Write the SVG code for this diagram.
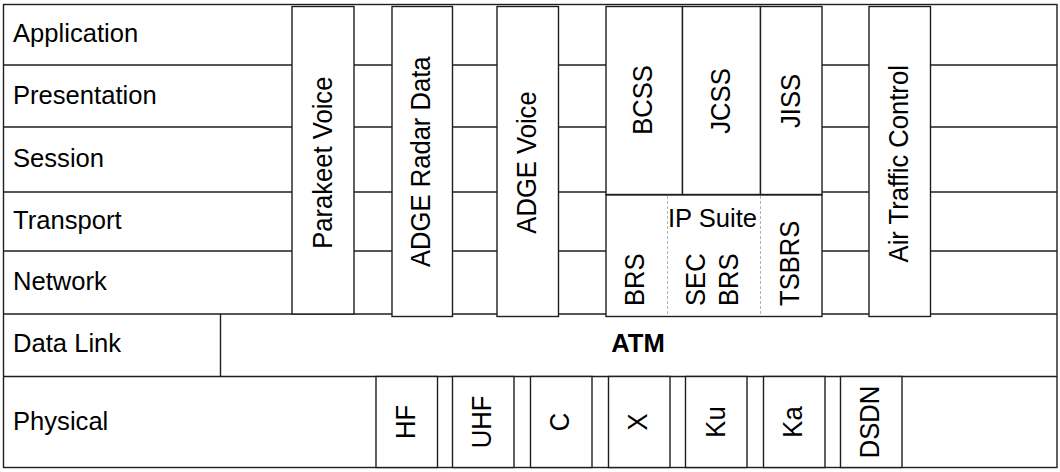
<svg xmlns="http://www.w3.org/2000/svg" width="1060" height="472" viewBox="0 0 1060 472">
<style>
  .ln{stroke:#1e1e1e;stroke-width:1.4;fill:none}
  .bx{stroke:#1e1e1e;stroke-width:1.4;fill:#fff}
  .dash{stroke:#b4b4b4;stroke-width:1;stroke-dasharray:3 2;fill:none}
  text{font-family:"Liberation Sans",Arial,sans-serif;font-size:25.6px;fill:#000}
  .mid{text-anchor:middle}
  .st{text-anchor:start}
  .b{font-weight:bold}
</style>
<rect x="0" y="0" width="1060" height="472" fill="#fff"/>
<g id="connectors">
  <rect class="ln" x="3.5" y="4.5" width="1053.5" height="463"/>
  <line class="ln" x1="3.5" y1="65" x2="1057" y2="65"/>
  <line class="ln" x1="3.5" y1="127" x2="1057" y2="127"/>
  <line class="ln" x1="3.5" y1="192" x2="1057" y2="192"/>
  <line class="ln" x1="3.5" y1="251" x2="1057" y2="251"/>
  <line class="ln" x1="3.5" y1="314" x2="1057" y2="314"/>
  <line class="ln" x1="3.5" y1="376.5" x2="1057" y2="376.5"/>
  <line class="ln" x1="220.5" y1="314" x2="220.5" y2="376.5"/>
</g>
<g id="layer-application"><text x="13" y="42">Application</text></g>
<g id="layer-presentation"><text x="13" y="104">Presentation</text></g>
<g id="layer-session"><text x="13" y="167">Session</text></g>
<g id="layer-transport"><text x="13" y="229">Transport</text></g>
<g id="layer-network"><text x="13" y="289.5">Network</text></g>
<g id="layer-datalink"><text x="13" y="352">Data Link</text></g>
<g id="atm"><text class="mid b" x="638" y="352">ATM</text></g>
<g id="layer-physical"><text x="13" y="429.5">Physical</text></g>

<g id="parakeet-voice">
  <rect class="bx" x="292" y="6.5" width="62" height="307.5"/>
  <text class="mid" transform="translate(331.5,162.7) rotate(-90) scale(1,1.1)">Parakeet Voice</text>
</g>
<g id="adge-radar-data">
  <rect class="bx" x="392" y="6.5" width="60.5" height="310"/>
  <text class="mid" transform="translate(430,161.7) rotate(-90) scale(1,1.1)">ADGE Radar Data</text>
</g>
<g id="adge-voice">
  <rect class="bx" x="497" y="6.5" width="61.5" height="310"/>
  <text class="mid" transform="translate(535.5,162.5) rotate(-90) scale(1,1.1)">ADGE Voice</text>
</g>
<g id="bcss">
  <rect class="bx" x="606" y="6.5" width="76.5" height="188"/>
  <text class="mid" transform="translate(652,100) rotate(-90) scale(1,1.1)">BCSS</text>
</g>
<g id="jcss">
  <rect class="bx" x="682.5" y="6.5" width="78" height="188"/>
  <text class="mid" transform="translate(729.5,101) rotate(-90) scale(1,1.1)">JCSS</text>
</g>
<g id="jiss">
  <rect class="bx" x="760.5" y="6.5" width="61.5" height="188"/>
  <text class="mid" transform="translate(799.5,101) rotate(-90) scale(1,1.1)">JISS</text>
</g>
<g id="ip-suite">
  <rect class="bx" x="606" y="195" width="216" height="121.5"/>
  <line class="dash" x1="667.5" y1="196" x2="667.5" y2="316"/>
  <line class="dash" x1="760.5" y1="196" x2="760.5" y2="316"/>
  <text class="mid" x="712.5" y="227">IP Suite</text>
  <text class="st" transform="translate(644,306) rotate(-90) scale(1,1.05)">BRS</text>
  <text class="st" transform="translate(705,306) rotate(-90) scale(1,1.08)">SEC</text>
  <text class="st" transform="translate(737.5,306) rotate(-90) scale(1,1.05)">BRS</text>
  <text class="st" transform="translate(798.5,306) rotate(-90) scale(1,1.1)">TSBRS</text>
</g>
<g id="air-traffic-control">
  <rect class="bx" x="869" y="6.5" width="61.5" height="310"/>
  <text class="mid" transform="translate(908,163.8) rotate(-90) scale(1,1.1)">Air Traffic Control</text>
</g>

<g id="hf">
  <rect class="bx" x="376" y="376.5" width="61.5" height="91"/>
  <text class="mid" transform="translate(414.5,422) rotate(-90) scale(1,1.05)">HF</text>
</g>
<g id="uhf">
  <rect class="bx" x="452.5" y="376.5" width="61.5" height="91"/>
  <text class="mid" transform="translate(491,422) rotate(-90) scale(1,1.05)">UHF</text>
</g>
<g id="c">
  <rect class="bx" x="530.5" y="376.5" width="61.5" height="91"/>
  <text class="mid" transform="translate(569,422) rotate(-90) scale(1,1.05)">C</text>
</g>
<g id="x">
  <rect class="bx" x="608.5" y="376.5" width="61.5" height="91"/>
  <text class="mid" transform="translate(647,422) rotate(-90) scale(1,1.05)">X</text>
</g>
<g id="ku">
  <rect class="bx" x="685.5" y="376.5" width="61.5" height="91"/>
  <text class="mid" transform="translate(724.5,422) rotate(-90) scale(1,1.05)">Ku</text>
</g>
<g id="ka">
  <rect class="bx" x="763.5" y="376.5" width="61.5" height="91"/>
  <text class="mid" transform="translate(802,422) rotate(-90) scale(1,1.05)">Ka</text>
</g>
<g id="dsdn">
  <rect class="bx" x="840.5" y="376.5" width="61.5" height="91"/>
  <text class="mid" transform="translate(879,422) rotate(-90) scale(1,1.05)">DSDN</text>
</g>
</svg>
